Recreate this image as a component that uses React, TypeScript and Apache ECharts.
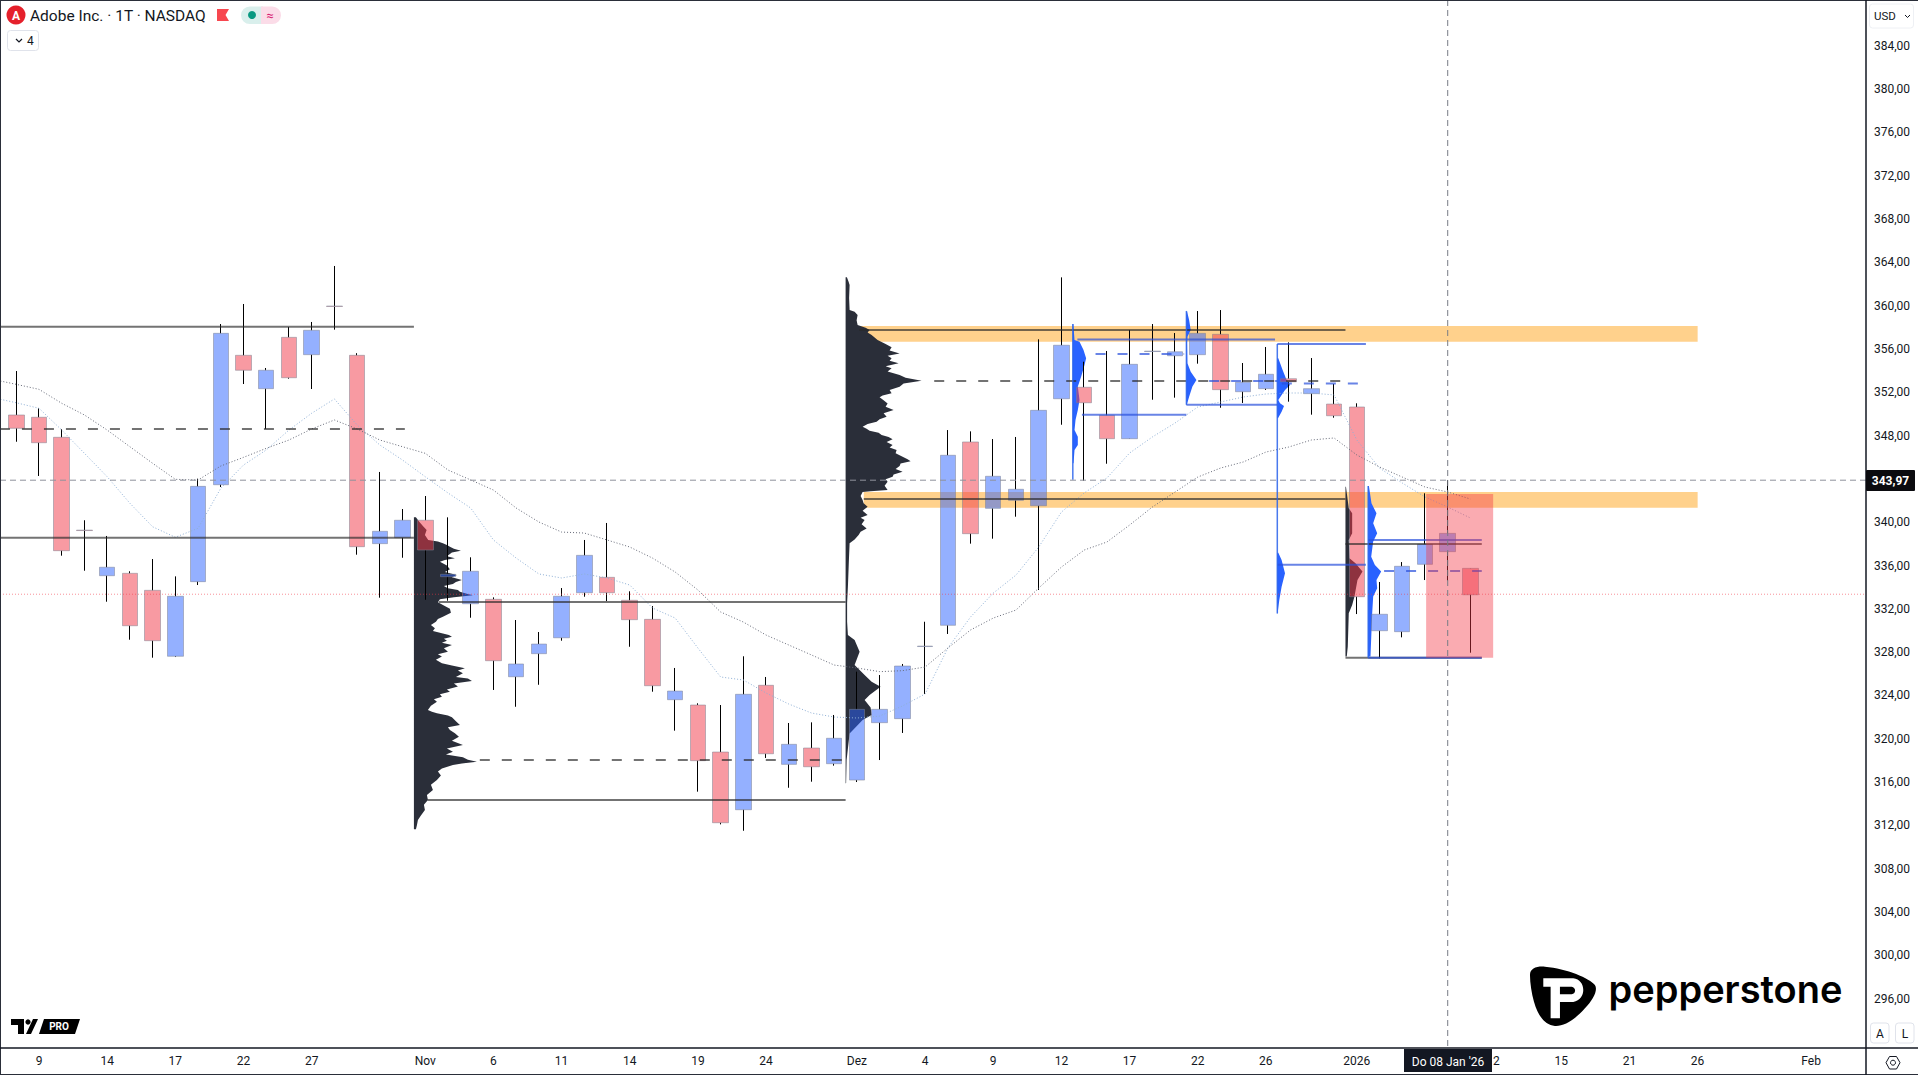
import React, { useEffect, useRef } from "react";
import * as echarts from "echarts";

const tradingDays = [
  "2025-10-08","2025-10-09","2025-10-10","2025-10-13","2025-10-14","2025-10-15","2025-10-16","2025-10-17","2025-10-20","2025-10-21","2025-10-22","2025-10-23","2025-10-24","2025-10-27","2025-10-28","2025-10-29","2025-10-30","2025-10-31",
  "2025-11-03","2025-11-04","2025-11-05","2025-11-06","2025-11-07","2025-11-10","2025-11-11","2025-11-12","2025-11-13","2025-11-14","2025-11-17","2025-11-18","2025-11-19","2025-11-20","2025-11-21","2025-11-24","2025-11-25","2025-11-26","2025-11-28",
  "2025-12-01","2025-12-02","2025-12-03","2025-12-04","2025-12-05","2025-12-08","2025-12-09","2025-12-10","2025-12-11","2025-12-12","2025-12-15","2025-12-16","2025-12-17","2025-12-18","2025-12-19","2025-12-22","2025-12-23","2025-12-24","2025-12-26","2025-12-29","2025-12-30","2025-12-31",
  "2026-01-02","2026-01-05","2026-01-06","2026-01-07","2026-01-08","2026-01-09","2026-01-12","2026-01-13","2026-01-14","2026-01-15","2026-01-16","2026-01-20","2026-01-21","2026-01-22","2026-01-23","2026-01-26","2026-01-27","2026-01-28","2026-01-29","2026-01-30",
  "2026-02-02","2026-02-03","2026-02-04"];

const timeTickDates = ["2025-10-09","2025-10-14","2025-10-17","2025-10-22","2025-10-27","2025-11-03","2025-11-06","2025-11-11","2025-11-14","2025-11-19","2025-11-24","2025-12-01","2025-12-04","2025-12-09","2025-12-12","2025-12-17","2025-12-22","2025-12-26","2026-01-02","2026-01-12","2026-01-15","2026-01-21","2026-01-26","2026-02-02"];
const timeTickLabels = ["9","14","17","22","27","Nov","6","11","14","19","24","Dez","4","9","12","17","22","26","2026","12","15","21","26","Feb"];
const priceTicks = [296,300,304,308,312,316,320,324,328,332,336,340,344,348,352,356,360,364,368,372,376,380,384];

const candleOpen = [349.99,349.78,347.93,339.36,335.15,335.37,333.80,327.71,334.60,343.55,355.50,352.42,357.16,355.56,360.05,355.50,338.11,338.66,340.27,335.06,332.56,332.97,325.82,327.95,329.42,333.58,335.00,332.88,331.12,323.70,323.21,318.87,313.54,325.03,317.73,319.24,317.79,316.28,321.58,321.95,328.61,330.57,347.50,341.37,342.11,341.61,351.49,352.55,349.96,347.80,355.85,355.46,355.56,357.44,352.14,352.42,353.34,351.96,351.00,350.73,330.07,329.98,336.20,337.37,335.83];
const candleClose = [348.76,347.43,337.46,339.32,335.93,330.53,329.15,333.25,343.40,357.53,354.12,354.12,353.43,357.81,360.01,337.83,339.25,340.27,337.52,335.28,335.56,327.30,327.00,328.84,333.25,337.03,333.58,331.09,324.99,324.50,318.07,312.34,324.20,318.71,319.58,317.51,320.14,322.81,322.81,326.81,328.65,346.27,339.03,344.33,343.13,350.42,356.43,351.12,347.80,354.67,355.89,355.83,357.53,352.33,353.01,353.75,353.06,352.42,349.92,333.21,331.59,336.02,338.05,339.06,333.39];
const candleHigh = [354.05,350.61,348.67,340.27,338.82,335.56,336.69,335.09,344.11,358.39,360.24,354.33,358.11,358.58,363.75,355.70,344.73,341.31,342.51,340.54,336.85,333.15,331.06,329.95,334.01,338.45,340.02,333.71,332.35,326.63,323.37,323.21,327.71,325.80,321.55,321.61,322.29,326.29,325.98,327.00,330.90,348.60,348.48,347.77,347.96,356.98,362.70,354.91,355.90,357.84,358.39,357.56,359.59,359.68,354.79,356.27,356.70,355.25,352.85,351.07,334.57,336.41,342.76,343.99,335.85];
const candleLow = [347.52,344.36,337.00,335.61,332.75,329.24,327.58,327.64,334.29,343.34,352.85,348.70,353.34,352.39,357.87,337.09,333.12,336.81,332.93,332.84,331.27,324.60,323.05,325.08,329.15,333.21,332.81,328.59,324.44,320.84,315.21,312.19,311.60,318.32,315.57,316.13,317.61,316.10,318.13,320.63,324.23,329.77,338.11,338.57,340.60,333.83,349.09,343.92,345.49,347.78,351.40,351.59,354.73,350.66,351.10,352.30,351.22,350.02,349.74,331.61,327.52,329.46,334.75,334.69,328.04];

// moving averages: first value sits just left of the first candle
const maDays = [-0.7,...candleOpen.map((_, i) => i)];
const fastMa = [351.44,351.12,350.61,348.60,346.45,344.29,341.84,339.67,338.70,339.53,343.22,345.37,346.76,348.60,350.15,351.47,349.07,347.22,345.83,344.29,342.79,341.40,338.45,336.78,335.31,334.94,335.31,334.94,334.29,332.17,331.24,328.47,325.80,325.52,324.32,323.30,322.47,322.10,322.01,322.19,323.12,324.23,328.47,331.34,333.55,335.21,337.80,341.03,342.79,344.17,346.48,347.96,349.25,350.73,351.19,351.65,351.93,352.02,352.02,351.84,347.68,345.09,343.71,342.42,341.49,340.48];
const slowMa = [353.13,352.82,352.36,351.07,349.99,348.60,347.06,345.53,344.05,343.99,345.28,346.08,346.91,347.68,348.70,349.53,348.70,347.68,347.06,346.45,344.91,343.99,343.06,341.40,340.11,339.18,339.09,338.45,337.80,336.78,335.49,333.83,331.80,330.87,329.67,328.75,327.83,326.90,326.63,326.29,326.38,326.72,328.47,330.14,331.24,331.98,334.01,335.95,337.52,338.26,339.83,341.49,342.88,344.26,345.09,345.65,346.57,347.03,347.68,347.87,346.30,345.19,344.26,343.34,342.88,342.23];

// volume profiles: [price, volume]
const profileA = [[340.54,2],[340.14,5.3],[339.75,9],[339.37,12.7],[338.9,11],[338.45,14.3],[338.3,24],[338.14,29],[337.98,33],[337.83,36],[337.65,40],[337.46,47],[337.3,38],[337.16,36],[336.95,33],[336.76,41],[336.6,31],[336.45,26],[336.1,33],[335.74,36],[335.5,31],[335.22,43],[335.0,38],[334.76,48],[334.58,42],[334.39,39],[334.2,30],[333.99,34],[333.84,44],[333.68,46],[333.5,52],[333.34,59],[333.15,40],[332.97,26],[332.7,24],[332.45,29],[332.1,36],[331.74,37],[331.55,33],[331.37,29],[331.15,24],[330.91,22],[330.6,17],[330.29,21],[330.05,19],[329.83,28],[329.68,35],[329.52,38],[329.32,30],[329.15,33],[328.95,28],[328.75,38],[328.45,30],[328.14,34],[327.9,24],[327.68,28],[327.4,22],[327.06,28],[326.85,38],[326.60,51],[326.4,44],[326.14,49],[325.8,42],[325.65,54],[325.43,58],[325.2,40],[324.91,44],[324.65,33],[324.44,36],[324.2,26],[323.98,28],[323.75,20],[323.52,23],[323.15,17],[322.75,14],[322.6,18],[322.44,23],[322.25,34],[322.07,38],[321.7,42],[321.37,46],[321.15,34],[320.90,36],[320.6,41],[320.29,45],[319.9,38],[319.52,49],[319.2,33],[318.90,39],[318.65,32],[318.38,49],[318.15,54],[317.98,63],[317.82,48],[317.67,39],[317.35,28],[317.06,24],[316.7,27],[316.29,23],[315.85,17],[315.37,19],[314.9,13],[314.44,14],[314.0,10],[313.51,11],[313.0,7],[312.59,4],[312.1,3],[311.73,2]];
const profileB = [[362.70,1.3],[362.3,3],[361.99,4],[360.8,3.5],[359.68,4],[359.53,9],[359.22,12],[358.75,11],[358.30,12],[358.05,20],[357.84,24],[357.6,22],[357.37,26],[357.15,29],[356.91,32],[356.55,40],[356.24,46],[355.95,44],[355.68,54],[355.45,42],[355.22,46],[355.0,44],[354.76,53],[354.5,40],[354.30,46],[354.0,42],[353.68,54],[353.42,60],[353.16,76],[352.9,58],[352.60,54],[352.3,44],[351.99,46],[351.8,37],[351.62,34],[351.35,38],[351.06,42],[350.75,40],[350.45,48],[350.15,38],[349.83,41],[349.6,34],[349.37,31],[349.15,22],[348.91,17],[348.72,21],[348.54,24],[348.35,33],[348.14,36],[347.95,43],[347.74,47],[347.5,41],[347.22,47],[347.0,44],[346.76,51],[346.45,50],[346.14,57],[345.9,62],[345.71,65],[345.5,55],[345.28,54],[345.0,50],[344.75,57],[344.5,48],[344.29,47],[344.05,40],[343.83,42],[343.45,39],[343.06,42],[342.95,25],[342.88,17],[342.5,15],[342.14,17],[341.85,18],[341.52,22],[341.15,17],[340.75,22],[340.5,15],[340.29,19],[339.9,16],[339.52,21],[339.2,15],[338.91,13],[338.5,9],[338.14,4],[336.60,3.3],[334.14,2.3],[332.60,1.5],[330.90,1.5],[329.67,2.3],[329.21,9],[328.13,14],[326.90,9],[325.98,19],[325.37,26],[324.90,35],[324.13,24],[323.67,19],[322.97,25],[322.29,26],[321.83,17],[320.59,4],[318.13,1],[315.98,0.5]];
const profileC = [[358.39,0.5],[356.92,1.7],[356.76,6.7],[355.99,10.7],[355.22,13.3],[354.61,11.7],[353.53,8.3],[352.61,5],[351.38,6.7],[350.45,5],[349.53,2.7],[348.61,1.7],[347.99,5],[347.22,5],[346.76,1.7],[345.53,0.7]];
const profileD = [[359.53,0.7],[358.76,2.7],[357.84,4.3],[357.22,1],[356.61,0.7],[354.76,1],[353.99,4.3],[353.22,10],[352.61,6],[351.68,2.7],[350.91,0.3]];
const profileE = [[355.22,1],[354.15,5.3],[353.22,9.3],[352.76,12.7],[352.30,7.7],[351.38,1],[351.07,2.7],[350.82,6.7],[350.30,4.3],[349.68,0.7]];
const profileE2 = [[337.28,1],[336.60,4.3],[335.37,7.7],[334.14,4.3],[332.90,2],[331.67,0.3]];
const profileF = [[343.37,0.5],[341.37,3.3],[340.91,6.7],[339.07,6.7],[338.45,3.3],[336.76,4],[336.30,10],[335.53,17],[334.76,12],[333.22,9],[332.45,6.7],[331.68,3.3],[328.60,2.3],[327.68,1.3]];
const profileG = [[343.44,0.7],[341.84,3.3],[340.91,8.3],[339.99,5],[339.07,9],[338.30,5],[336.91,3],[336.14,6.7],[335.53,13],[334.76,8.3],[333.99,9],[333.22,5],[331.68,4],[327.68,2.3]];
const blackProfiles = [profileA, profileB, profileF];
const blackProfileDays = [17.5, 36.5, 58.5];
const blueProfiles = [profileC, profileD, profileE, profileE2, profileG];
const blueProfileDays = [46.5, 51.5, 55.5, 55.5, 59.5];

// [price, first day, last day]
const greySolidLevels = [[358.15,-0.72,17.5],[338.66,-0.72,17.5],[332.73,18.6,36.5],[314.44,18.1,36.5],[357.84,37.1,58.5],[342.24,37.3,58.5],[338.08,58.5,64.5],[327.58,58.5,64.5]];
const greyDashLevels = [[348.7,-0.72,17.1],[318.14,20.4,36.5],[353.13,40.4,58.5]];
const blueSolidLevels = [[356.95,46.7,55.4],[350.02,46.9,51.5],[350.94,51.5,55.5],[356.55,55.5,59.4],[336.17,55.5,59.4],[338.45,59.5,64.5],[327.58,59.5,64.5]];
const blueDashLevels = [[355.62,47.5,51.4],[353.13,52.5,55.5],[352.9,55.7,59.4],[335.59,60.2,64.5]];
// [day, top price, bottom price]
const blueEdges = [[46.5,358.39,344],[51.5,359.6,350.94],[55.5,356.55,331.67],[59.5,343.44,327.58]];
// [first day, last day, top price, bottom price]
const orangeZones = [[37.09,74,358.21,356.76],[37.3,74,342.88,341.43]];
const redZones = [[62.05,65,342.7,327.58]];
const lastPrice = 343.97;
const prevClosePrice = 333.44;
const crosshairDay = 63;

const yMin = 291.54;
const yMax = 388.31;
const dayMin = -0.7174;
const dayMax = 81.41;
const FONT = "Roboto, 'Liberation Sans', sans-serif";

echarts.graphic.registerShape("pepperShield", echarts.graphic.extendPath("M60 45C60 25 80 18 105 20C170 25 240 55 255 75C265 90 250 120 225 145C195 180 160 200 135 198C105 195 85 170 72 125C65 100 60 70 60 45Z", {}));
echarts.graphic.registerShape("pepperP", echarts.graphic.extendPath("M100 55L190 55C228 58 232 118 190 126L150 126L150 175L122 175L122 80L100 80Z", {}));
echarts.graphic.registerShape("pepperHole", echarts.graphic.extendPath("M150 80L185 80C199 83 199 100 185 103L150 103Z", {}));

function levelSeries(name: string, rows: number[][], stroke: string, lineWidth: number, dash: number[] | undefined, z: number) {
  return {
    name, type: "custom", xAxisIndex: 1, yAxisIndex: 1, z, silent: true, data: rows,
    encode: { x: [1, 2], y: 0 },
    renderItem: (_: any, api: any) => {
      const a = api.coord([api.value(1), api.value(0)]);
      const b = api.coord([api.value(2), api.value(0)]);
      return { type: "line", shape: { x1: a[0], y1: a[1], x2: b[0], y2: b[1] }, style: { stroke, lineWidth, lineDash: dash, fill: null } };
    },
  };
}

function zoneSeries(name: string, rows: number[][], fill: string, z: number) {
  return {
    name, type: "custom", xAxisIndex: 1, yAxisIndex: 1, z, silent: true, data: rows,
    encode: { x: [0, 1], y: [2, 3] },
    renderItem: (_: any, api: any) => {
      const a = api.coord([api.value(0), api.value(2)]);
      const b = api.coord([api.value(1), api.value(3)]);
      return { type: "rect", shape: { x: a[0], y: a[1], width: b[0] - a[0], height: b[1] - a[1] }, style: { fill } };
    },
  };
}

function profileSeries(name: string, profiles: number[][][], days: number[], fill: string, z: number) {
  return {
    name, type: "custom", xAxisIndex: 1, yAxisIndex: 1, z, silent: true,
    data: days.map((d, i) => [d, profiles[i][0][0]]),
    renderItem: (p: any, api: any) => {
      const rows = profiles[p.dataIndex];
      const day = days[p.dataIndex];
      const right = rows.map((r) => { const c = api.coord([day, r[0]]); return [c[0] + r[1], c[1]]; });
      const top = api.coord([day, rows[0][0]]);
      const bottom = api.coord([day, rows[rows.length - 1][0]]);
      return { type: "polygon", shape: { points: [top, ...right, bottom] }, style: { fill } };
    },
  };
}

function buildOption() {
  const bodies = candleOpen.map((o, i) => [tradingDays[i], o, candleClose[i], Math.min(o, candleClose[i]), Math.max(o, candleClose[i])]);
  const upperWicks = candleOpen.map((o, i) => { const t = Math.max(o, candleClose[i]); return [tradingDays[i], t, t, t, candleHigh[i]]; });
  const lowerWicks = candleOpen.map((o, i) => { const b = Math.min(o, candleClose[i]); return [tradingDays[i], b, b, candleLow[i], b]; });
  const wickStyle = { color: "#000", color0: "#000", borderColor: "#000", borderColor0: "#000", borderColorDoji: "#000", borderWidth: 1 };

  const ui = (e: any) => ({ z: 100, silent: true, ...e });
  const txt = (x: number, y: number, text: string, fontSize: number, fill: string, extra: any = {}) =>
    ui({ type: "text", x, y, style: { text, fontSize, fill, fontFamily: FONT, verticalAlign: "middle", align: "left", ...extra } });

  const graphicEls = [
    // frame
    ui({ type: "line", shape: { x1: 0.5, y1: 0, x2: 0.5, y2: 1075 }, style: { stroke: "#2a2e39", lineWidth: 1 } }),
    ui({ type: "line", shape: { x1: 0, y1: 0.5, x2: 1918, y2: 0.5 }, style: { stroke: "#2a2e39", lineWidth: 1 } }),
    ui({ type: "line", shape: { x1: 0, y1: 1074.5, x2: 1918, y2: 1074.5 }, style: { stroke: "#2a2e39", lineWidth: 1 } }),
    ui({ type: "line", shape: { x1: 0, y1: 1048, x2: 1918, y2: 1048 }, style: { stroke: "#131722", lineWidth: 1.5 } }),
    ui({ type: "line", shape: { x1: 1866, y1: 0, x2: 1866, y2: 1075 }, style: { stroke: "#131722", lineWidth: 1.5 } }),
    // header
    ui({ type: "circle", shape: { cx: 16, cy: 15, r: 9.5 }, style: { fill: "#e5202b" } }),
    txt(16, 15.5, "A", 12, "#fff", { align: "center", fontWeight: "bold" }),
    txt(30, 15.5, "Adobe Inc. · 1T · NASDAQ", 15.5, "#131722"),
    ui({ type: "polygon", shape: { points: [[217, 9], [229, 9], [225.5, 15], [229, 21], [217, 21]] }, style: { fill: "#f7474f" } }),
    ui({ type: "rect", shape: { x: 241, y: 6.5, width: 22, height: 17.5, r: [9, 0, 0, 9] }, style: { fill: "#d9efec" } }),
    ui({ type: "rect", shape: { x: 261, y: 6.5, width: 20, height: 17.5, r: [0, 9, 9, 0] }, style: { fill: "#fbdce8" } }),
    ui({ type: "circle", shape: { cx: 252, cy: 15, r: 4 }, style: { fill: "#089981" } }),
    txt(270, 15, "≈", 13, "#d81b72", { align: "center" }),
    ui({ type: "rect", shape: { x: 7.5, y: 30.5, width: 31, height: 20, r: 3 }, style: { fill: "#fff", stroke: "#e0e3eb", lineWidth: 1 } }),
    ui({ type: "polyline", shape: { points: [[16, 39], [19, 42], [22, 39]] }, style: { stroke: "#131722", lineWidth: 1.2, fill: null } }),
    txt(27, 41, "4", 12, "#131722"),
    // price scale controls
    ui({ type: "rect", shape: { x: 1869.5, y: 4, width: 44, height: 24, r: 3 }, style: { fill: "#fff", stroke: "#eef0f4", lineWidth: 1 } }),
    txt(1874, 16, "USD", 11.5, "#131722"),
    ui({ type: "polyline", shape: { points: [[1905, 15], [1907.5, 17.5], [1910, 15]] }, style: { stroke: "#131722", lineWidth: 1, fill: null } }),
    ui({ type: "rect", shape: { x: 1870.5, y: 1023, width: 18.5, height: 20, r: 3 }, style: { fill: "#fff", stroke: "#e0e3eb", lineWidth: 1 } }),
    ui({ type: "rect", shape: { x: 1895.5, y: 1023, width: 18.5, height: 20, r: 3 }, style: { fill: "#fff", stroke: "#e0e3eb", lineWidth: 1 } }),
    txt(1880, 1033.5, "A", 12, "#131722", { align: "center" }),
    txt(1905, 1033.5, "L", 12, "#131722", { align: "center" }),
    ui({ type: "polygon", shape: { points: [[1886, 1062.7], [1889.5, 1056.5], [1896.5, 1056.5], [1900, 1062.7], [1896.5, 1069], [1889.5, 1069]] }, style: { fill: "#fff", stroke: "#131722", lineWidth: 1 } }),
    ui({ type: "circle", shape: { cx: 1893, cy: 1062.7, r: 2.5 }, style: { fill: "#fff", stroke: "#131722", lineWidth: 1 } }),
    // last price tag
    ui({ type: "rect", shape: { x: 1866, y: 470, width: 49, height: 21, r: 1 }, style: { fill: "#0b0b0f" } }),
    txt(1890.5, 480.5, lastPrice.toFixed(2).replace(".", ","), 12, "#fff", { align: "center", fontWeight: "bold" }),
    // crosshair date tag
    ui({ type: "rect", shape: { x: 1404, y: 1049, width: 88, height: 23 }, style: { fill: "#131722" } }),
    txt(1448, 1062, "Do 08 Jan '26", 12, "#fff", { align: "center" }),
    // TV PRO logo
    ui({ type: "polygon", shape: { points: [[11, 1019], [24, 1019], [24, 1034], [18, 1034], [18, 1025], [11, 1025]] }, style: { fill: "#000" } }),
    ui({ type: "circle", shape: { cx: 28, cy: 1022, r: 2.6 }, style: { fill: "#000" } }),
    ui({ type: "polygon", shape: { points: [[33, 1019], [38, 1019], [31, 1034], [26, 1034]] }, style: { fill: "#000" } }),
    ui({ type: "polygon", shape: { points: [[44, 1019], [80, 1019], [75, 1034], [39, 1034]] }, style: { fill: "#000" } }),
    txt(59, 1026.5, "PRO", 10, "#fff", { align: "center", fontWeight: "bold" }),
    // Pepperstone logo
    ui({ type: "pepperShield", x: 1510, y: 960, scaleX: 1 / 3, scaleY: 1 / 3, style: { fill: "#000" } }),
    ui({ type: "pepperP", x: 1510, y: 960, scaleX: 1 / 3, scaleY: 1 / 3, style: { fill: "#fff" } }),
    ui({ type: "pepperHole", x: 1510, y: 960, scaleX: 1 / 3, scaleY: 1 / 3, style: { fill: "#000" } }),
    ui({ type: "text", x: 1725.5, y: 970, style: { text: "pepperstone", fontSize: 38, fontWeight: 600, fill: "#000", fontFamily: "Inter, Roboto, sans-serif", align: "center", verticalAlign: "top" } }),
  ];

  return {
    animation: false,
    backgroundColor: "#fff",
    grid: [
      { left: 4.94, top: 0, width: 1863, height: 1048, containLabel: false },
      { left: 0, top: 0, width: 1866, height: 1048, containLabel: false },
    ],
    xAxis: [
      {
        type: "category", gridIndex: 0, data: tradingDays, position: "bottom",
        axisLine: { show: false }, axisTick: { show: false }, splitLine: { show: false },
        axisLabel: {
          interval: (_: number, v: string) => timeTickDates.includes(v),
          formatter: (v: string) => { const i = timeTickDates.indexOf(v); return i >= 0 ? timeTickLabels[i] : ""; },
          color: "#131722", fontSize: 12, fontFamily: FONT, margin: 7, hideOverlap: false,
        },
      },
      { type: "value", gridIndex: 1, min: dayMin, max: dayMax, show: false, splitLine: { show: false } },
    ],
    yAxis: [
      {
        type: "value", gridIndex: 0, position: "right", offset: -2, min: yMin, max: yMax,
        axisLine: { show: false }, axisTick: { show: false }, splitLine: { show: false },
        axisLabel: {
          customValues: priceTicks,
          formatter: (v: number) => "{p|" + v.toFixed(2).replace(".", ",") + "}",
          rich: { p: { color: "#131722", fontSize: 12, fontFamily: FONT, padding: [0, 0, 2, 0] } },
          color: "#131722", fontSize: 12, fontFamily: FONT, margin: 8,
        },
      },
      { type: "value", gridIndex: 1, min: yMin, max: yMax, show: false, splitLine: { show: false } },
    ],
    graphic: { elements: graphicEls },
    series: [
      zoneSeries("Orange zones", orangeZones, "rgba(255,152,0,0.45)", 1),
      profileSeries("Session profiles", blackProfiles, blackProfileDays, "#2a2e39", 2),
      profileSeries("Intraperiod profiles", blueProfiles, blueProfileDays, "#2962ff", 2),
      {
        name: "Upper wicks", type: "candlestick", xAxisIndex: 0, yAxisIndex: 0, z: 3, barWidth: 1, silent: true,
        dimensions: ["day", "open", "close", "lowest", "highest"], encode: { x: 0, y: [1, 2, 3, 4] },
        data: upperWicks, itemStyle: wickStyle,
      },
      {
        name: "Lower wicks", type: "candlestick", xAxisIndex: 0, yAxisIndex: 0, z: 3, barWidth: 1, silent: true,
        dimensions: ["day", "open", "close", "lowest", "highest"], encode: { x: 0, y: [1, 2, 3, 4] },
        data: lowerWicks, itemStyle: wickStyle,
      },
      {
        name: "Adobe", type: "candlestick", xAxisIndex: 0, yAxisIndex: 0, z: 4, barWidth: 16, silent: true,
        dimensions: ["day", "open", "close", "lowest", "highest"], encode: { x: 0, y: [1, 2, 3, 4] },
        data: bodies,
        itemStyle: { color: "rgba(41,98,255,0.5)", color0: "rgba(242,54,69,0.5)", borderColor: "rgba(125,130,145,0.5)", borderColor0: "rgba(125,130,145,0.5)", borderWidth: 1 },
      },
      { name: "Fast MA", type: "line", xAxisIndex: 1, yAxisIndex: 1, z: 5, showSymbol: false, silent: true, data: maDays.map((d, i) => [d, fastMa[i]]), lineStyle: { color: "#8fb0d6", width: 1, type: [1, 2] } },
      { name: "Slow MA", type: "line", xAxisIndex: 1, yAxisIndex: 1, z: 5, showSymbol: false, silent: true, data: maDays.map((d, i) => [d, slowMa[i]]), lineStyle: { color: "#666a78", width: 1, type: [1, 2] } },
      levelSeries("Range levels", greySolidLevels, "rgba(40,40,40,0.65)", 2, undefined, 6),
      levelSeries("Range POC", greyDashLevels, "rgba(40,40,40,0.65)", 2, [10, 12], 6),
      levelSeries("Blue levels", blueSolidLevels, "rgba(41,80,220,0.7)", 2, undefined, 6),
      levelSeries("Blue POC", blueDashLevels, "rgba(41,80,220,0.7)", 2, [10, 12], 6),
      {
        name: "Blue edges", type: "custom", xAxisIndex: 1, yAxisIndex: 1, z: 6, silent: true, data: blueEdges,
        encode: { x: 0, y: [1, 2] },
        renderItem: (_: any, api: any) => {
          const a = api.coord([api.value(0), api.value(1)]);
          const b = api.coord([api.value(0), api.value(2)]);
          return { type: "line", shape: { x1: a[0], y1: a[1], x2: b[0], y2: b[1] }, style: { stroke: "rgba(41,98,235,0.85)", lineWidth: 1.5, fill: null } };
        },
      },
      zoneSeries("Red zone", redZones, "rgba(242,54,69,0.42)", 7),
      levelSeries("Last price", [[lastPrice, dayMin, dayMax]], "#8f929c", 1, [6, 4], 8),
      levelSeries("Previous close", [[prevClosePrice, dayMin, dayMax]], "rgba(242,54,69,0.55)", 1, [1, 2], 8),
      {
        name: "Crosshair", type: "custom", xAxisIndex: 1, yAxisIndex: 1, z: 8, silent: true, data: [[crosshairDay, yMax, yMin]],
        encode: { x: 0, y: [1, 2] },
        renderItem: (_: any, api: any) => {
          const a = api.coord([api.value(0), api.value(1)]);
          const b = api.coord([api.value(0), api.value(2)]);
          return { type: "line", shape: { x1: a[0], y1: a[1], x2: b[0], y2: b[1] }, style: { stroke: "#787b86", lineWidth: 1, lineDash: [6, 4], fill: null } };
        },
      },
    ],
  };
}

export default function App() {
  const ref = useRef<HTMLDivElement>(null);
  useEffect(() => {
    document.body.style.margin = "0";
    const chart = echarts.init(ref.current!, undefined, { renderer: "svg" });
    chart.setOption(buildOption() as any);
    return () => chart.dispose();
  }, []);
  return <div ref={ref} style={{ position: "fixed", left: 0, top: 0, width: 1918, height: 1075 }} />;
}
